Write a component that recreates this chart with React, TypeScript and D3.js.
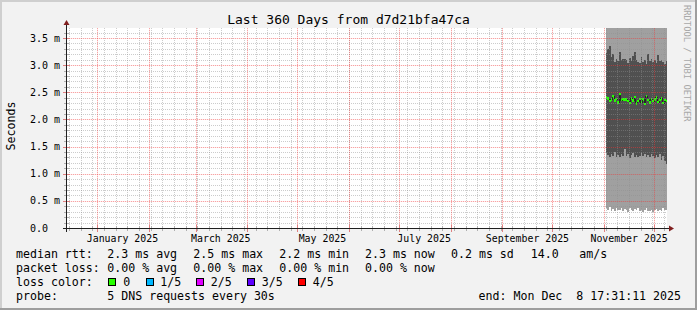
import React from "react";
import * as d3 from "d3";

const W = 697;
const H = 310;

const titleText = "Last 360 Days from d7d21bfa47ca";
const unitText = "Seconds";
const watermark = "RRDTOOL / TOBI OETIKER";

const startTime = new Date(2024, 11, 13, 17, 31, 11);
const endTime = new Date(2025, 11, 8, 17, 31, 11);
const firstDataDay = new Date(2025, 10, 2);

const yTicks = [0, 0.5, 1.0, 1.5, 2.0, 2.5, 3.0, 3.5];
const yTickLabels = ["0.0", "0.5 m", "1.0 m", "1.5 m", "2.0 m", "2.5 m", "3.0 m", "3.5 m"];

// ms values per day (Nov 2 .. Dec 8, 2025)
const smokeMax = [3.95, 3.92, 3.98, 3.9, 3.94, 3.91, 3.96, 3.93, 3.97, 3.9, 3.92, 3.95, 3.91, 3.94, 3.9, 3.93, 3.96, 3.92, 3.9, 3.94, 3.91, 3.95, 3.93, 3.9, 3.92, 3.97, 3.91, 3.94, 3.9, 3.93, 3.92, 3.95, 3.9, 3.94, 3.91, 3.93, 3.92];
const smokeHigh = [3.22, 3.3, 3.36, 3.15, 3.2, 3.05, 3.12, 3.08, 3.25, 3.1, 3.12, 3.11, 3.09, 3.04, 3.13, 3.07, 3.16, 3.24, 3.1, 3.06, 3.04, 3.15, 3.06, 3.1, 3.02, 3.2, 3.08, 3.12, 3.06, 3.09, 3.04, 3.18, 3.07, 3.1, 3.05, 3.02, 3.08];
const smokeLow = [1.38, 1.34, 1.3, 1.36, 1.33, 1.4, 1.31, 1.35, 1.3, 1.37, 1.33, 1.45, 1.32, 1.36, 1.29, 1.34, 1.38, 1.31, 1.35, 1.3, 1.33, 1.39, 1.32, 1.36, 1.31, 1.34, 1.3, 1.37, 1.33, 1.28, 1.35, 1.31, 1.36, 1.26, 1.32, 1.24, 1.18];
const smokeMin = [0.36, 0.33, 0.38, 0.32, 0.35, 0.31, 0.37, 0.34, 0.33, 0.36, 0.32, 0.35, 0.33, 0.3, 0.36, 0.34, 0.32, 0.35, 0.33, 0.37, 0.31, 0.34, 0.3, 0.33, 0.36, 0.32, 0.31, 0.34, 0.3, 0.33, 0.35, 0.32, 0.34, 0.31, 0.36, 0.33, 0.34];
const medianRtt = [2.4, 2.38, 2.33, 2.36, 2.42, 2.34, 2.37, 2.31, 2.45, 2.35, 2.36, 2.36, 2.36, 2.33, 2.3, 2.38, 2.34, 2.41, 2.29, 2.33, 2.37, 2.32, 2.36, 2.28, 2.43, 2.35, 2.31, 2.37, 2.33, 2.36, 2.4, 2.32, 2.35, 2.38, 2.3, 2.34, 2.33];

const lossLabels = ["0", "1/5", "2/5", "3/5", "4/5"];
const lossColors = ["#26ff00", "#00b8ff", "#e000ff", "#5e00ff", "#ff0000"];

const FONT = "'DejaVu Sans Mono', monospace";

export default function App() {
  const x = d3.scaleTime().domain([startTime, endTime]).range([67, 667]);
  const y = d3.scaleLinear().domain([0, 3.683]).range([228, 28]).clamp(true);

  const days = medianRtt.map((_, i) => d3.timeDay.offset(firstDataDay, i));
  const cols = days.map((d, i) => {
    const x0 = x(d);
    const nx = d3.timeDay.offset(d, 1);
    const x1 = Math.min(x(nx), x(endTime));
    return { x0, x1, i };
  });

  const weeks = d3.timeSunday.range(startTime, endTime);
  const months = d3.timeMonth.range(startTime, endTime);
  const labelMonths = d3.timeMonth.every(2)!.range(startTime, endTime);
  const fmt = d3.timeFormat("%B %Y");

  const minorH: number[] = [];
  for (let i = 1; i <= 36; i++) if (i % 5 !== 0) minorH.push(i / 10);

  const medPts: [number, number][] = days.map((d, i) => [x(d), y(medianRtt[i])]);
  medPts.push([x(endTime), y(medianRtt[medianRtt.length - 1])]);
  const medLine = d3.line().curve(d3.curveStepAfter)(medPts) || "";

  const legendY = [258, 272, 286, 300];
  const px = (v: number) => Math.round(v) + 0.5;

  const minorColor = "rgba(143,143,143,0.45)";
  const majorColor = "rgba(235,70,70,0.42)";
  const majorUnder = "rgba(255,0,0,0.09)";

  return (
    <div style={{ position: "fixed", left: 0, top: 0 }}>
      <svg width={W} height={H} style={{ display: "block" }} fontFamily={FONT}>
        <rect x={0} y={0} width={W} height={H} fill="#f2f2f2" />
        <rect x={0} y={0} width={W} height={2} fill="#cfcfcf" />
        <rect x={0} y={0} width={2} height={H} fill="#cfcfcf" />
        <rect x={0} y={H - 2} width={W} height={2} fill="#9e9e9e" />
        <rect x={W - 2} y={0} width={2} height={H} fill="#9e9e9e" />

        <rect x={67} y={28} width={600} height={200} fill="#ffffff" />

        {/* smoke */}
        <g shapeRendering="crispEdges">
          {cols.map((c) => (
            <g key={c.i}>
              <rect x={c.x0} width={c.x1 - c.x0} y={y(smokeMax[c.i])} height={y(smokeMin[c.i]) - y(smokeMax[c.i])} fill="#a0a0a0" />
              <rect x={c.x0} width={c.x1 - c.x0} y={y(smokeHigh[c.i])} height={y(smokeLow[c.i]) - y(smokeHigh[c.i])} fill="#505050" />
            </g>
          ))}
        </g>
        <g shapeRendering="crispEdges">
          {cols.map((c) => (
            <rect key={c.i} x={c.x0} width={c.x1 - c.x0} y={y(medianRtt[c.i]) - 1} height={2} fill={lossColors[0]} />
          ))}
        </g>
        <path d={medLine} fill="none" stroke="#202020" strokeWidth={1} shapeRendering="crispEdges" strokeOpacity={0.9} />
        <g shapeRendering="crispEdges">
          {cols.map((c) => (
            <rect key={"g" + c.i} x={c.x0} width={c.x1 - c.x0} y={y(medianRtt[c.i]) - 1.5} height={2} fill={lossColors[0]} />
          ))}
        </g>

        {/* grid */}
        <g strokeWidth={1} shapeRendering="crispEdges">
          {yTicks.slice(1).map((v) => (
            <line key={"Uh" + v} x1={67} x2={667} y1={px(y(v))} y2={px(y(v))} stroke={majorUnder} />
          ))}
          {months.map((d) => (
            <line key={"Uv" + d.getTime()} x1={px(x(d))} x2={px(x(d))} y1={28} y2={228} stroke={majorUnder} />
          ))}
        </g>
        <g strokeDasharray="1,1" strokeWidth={1} shapeRendering="crispEdges">
          {minorH.map((v) => (
            <line key={"mh" + v} x1={67} x2={667} y1={px(y(v))} y2={px(y(v))} stroke={minorColor} />
          ))}
          {weeks.map((d) => (
            <line key={"mv" + d.getTime()} x1={px(x(d))} x2={px(x(d))} y1={28} y2={228} stroke={minorColor} />
          ))}
          {yTicks.slice(1).map((v) => (
            <line key={"Mh" + v} x1={67} x2={667} y1={px(y(v))} y2={px(y(v))} stroke={majorColor} />
          ))}
          {months.map((d) => (
            <line key={"Mv" + d.getTime()} x1={px(x(d))} x2={px(x(d))} y1={28} y2={228} stroke={majorColor} />
          ))}
        </g>

        {/* ticks */}
        <g strokeWidth={1} shapeRendering="crispEdges">
          {minorH.map((v) => (
            <line key={"th" + v} x1={64} x2={69} y1={px(y(v))} y2={px(y(v))} stroke="#b0b0b0" />
          ))}
          {yTicks.map((v) => (
            <line key={"tH" + v} x1={63} x2={70} y1={px(y(v))} y2={px(y(v))} stroke="#e08080" />
          ))}
          {weeks.map((d) => (
            <line key={"tv" + d.getTime()} x1={px(x(d))} x2={px(x(d))} y1={226} y2={231} stroke="#b0b0b0" />
          ))}
          {months.map((d) => (
            <line key={"tV" + d.getTime()} x1={px(x(d))} x2={px(x(d))} y1={225} y2={232} stroke="#e08080" />
          ))}
        </g>

        {/* axes */}
        <line x1={63} x2={671} y1={228.5} y2={228.5} stroke="#1f1f1f" shapeRendering="crispEdges" />
        <line x1={66.5} x2={66.5} y1={232} y2={24} stroke="#1f1f1f" shapeRendering="crispEdges" />
        <polygon points="669,225.5 669,231.5 674,228.5" fill="#801f1f" />
        <polygon points="63.5,25 69.5,25 66.5,20" fill="#801f1f" />

        {/* y labels */}
        {yTicks.map((v, i) => (
          <text key={"yl" + v} x={30} y={y(v) + 3.6} fontSize={10} fill="#000">{yTickLabels[i]}</text>
        ))}

        {/* x labels */}
        {labelMonths.map((d) => (
          <text key={"xl" + d.getTime()} x={x(d3.timeDay.offset(d, 15))} y={242} fontSize={9.9} textAnchor="middle" fill="#000">{fmt(d)}</text>
        ))}

        {/* title */}
        <text x={348.5} y={24} fontSize={13} textAnchor="middle" fill="#000">{titleText}</text>
        <text transform="translate(15,126) rotate(-90)" fontSize={11.6} textAnchor="middle" fill="#000">{unitText}</text>
        <text transform="translate(684,5) rotate(90)" fontSize={8.8} fill="#a8a8a8">{watermark}</text>

        {/* legend */}
        <g fontSize={11.6} fill="#000">
          <text x={16} y={legendY[0]}>median rtt:</text>
          <text x={107.3} y={legendY[0]}>2.3 ms avg</text>
          <text x={193.3} y={legendY[0]}>2.5 ms max</text>
          <text x={279.3} y={legendY[0]}>2.2 ms min</text>
          <text x={365} y={legendY[0]}>2.3 ms now</text>
          <text x={451} y={legendY[0]}>0.2 ms sd</text>
          <text x={530.7} y={legendY[0]}>14.0</text>
          <text x={579.3} y={legendY[0]}>am/s</text>

          <text x={16} y={legendY[1]}>packet loss:</text>
          <text x={107.3} y={legendY[1]}>0.00 % avg</text>
          <text x={193.3} y={legendY[1]}>0.00 % max</text>
          <text x={279.3} y={legendY[1]}>0.00 % min</text>
          <text x={365} y={legendY[1]}>0.00 % now</text>

          <text x={16} y={legendY[2]}>loss color:</text>
          {lossLabels.map((l, i) => {
            const bx = [108, 146, 196, 246.5, 297.5][i];
            const tx = [123.3, 160.3, 210.7, 261.7, 312.7][i];
            return (
              <g key={l}>
                <rect x={Math.round(bx) + 0.5} y={278.5} width={7} height={7} fill={lossColors[i]} stroke="#000" strokeWidth={1} shapeRendering="crispEdges" />
                <text x={tx} y={legendY[2]}>{l}</text>
              </g>
            );
          })}

          <text x={16} y={legendY[3]}>probe:</text>
          <text x={107.3} y={legendY[3]}>5 DNS requests every 30s</text>
          <text x={681} y={legendY[3]} textAnchor="end" xmlSpace="preserve" style={{ whiteSpace: "pre" }}>{"end: Mon Dec  8 17:31:11 2025"}</text>
        </g>
      </svg>
    </div>
  );
}
